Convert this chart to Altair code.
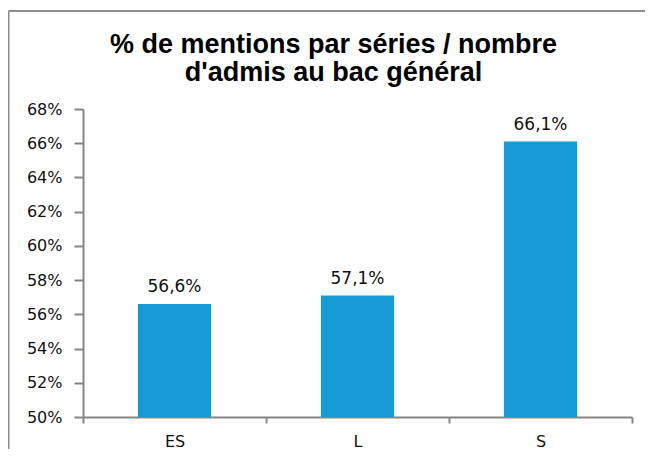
import altair as alt
import pandas as pd

categories = ["ES", "L", "S"]
values = [56.6, 57.1, 66.1]
y_ticks = [50, 52, 54, 56, 58, 60, 62, 64, 66, 68]
title_lines = ["% de mentions par séries / nombre", "d'admis au bac général"]

df = pd.DataFrame({"serie": categories, "pct": values})

GRAY = "#868686"
FONT = "DejaVu Sans"

x = alt.X(
    "serie:N", sort=categories, title=None,
    scale=alt.Scale(paddingInner=0, paddingOuter=0),
    axis=alt.Axis(tickBand="extent", labelAngle=0, tickSize=6, labelPadding=10,
                  domainColor=GRAY, tickColor=GRAY, domainWidth=2, tickWidth=2),
)
y = alt.Y(
    "pct:Q", title=None,
    scale=alt.Scale(domain=[50, 68], zero=False, nice=False),
    axis=alt.Axis(values=y_ticks, labelExpr="datum.value + '%'", grid=False,
                  tickSize=9, labelPadding=12, domainColor=GRAY, tickColor=GRAY,
                  domainWidth=2, tickWidth=2),
)

frame_src = pd.DataFrame({"k": [0]})
frame_top = alt.Chart(frame_src).mark_rule(stroke="#8c8c8c", strokeWidth=2).encode(
    x=alt.value(-74.5), x2=alt.value(700), y=alt.value(-98)
)
frame_left = alt.Chart(frame_src).mark_rule(stroke="#8c8c8c", strokeWidth=2).encode(
    x=alt.value(-74.5), y=alt.value(-98), y2=alt.value(400)
)

bars = alt.Chart(df).mark_bar(color="#179BD7", width=alt.RelativeBandSize(0.4)).encode(
    x=x, y=y, y2=alt.datum(50)
)

labels = alt.Chart(df).transform_calculate(
    label="replace(format(datum.pct, '.1f'), '.', ',') + '%'"
).mark_text(dy=-12, baseline="alphabetic", font=FONT, fontSize=17, color="#111111").encode(
    x=x, y=y, text="label:N"
)

chart = alt.layer(frame_top, frame_left, bars, labels).properties(
    width=549, height=308,
    title=alt.Title(title_lines, font="Liberation Sans", fontWeight="bold", fontSize=27,
                    anchor="middle", dx=-24, offset=-77, lineHeight=28, color="#000000"),
    padding={"left": 75, "top": 101, "right": 13, "bottom": 32},
    autosize="none",
).configure_view(strokeWidth=0).configure_axis(
    labelFont=FONT, labelFontSize=16, labelColor="#111111"
)

chart.save("out.html", embed_options={"renderer": "svg", "actions": False})
